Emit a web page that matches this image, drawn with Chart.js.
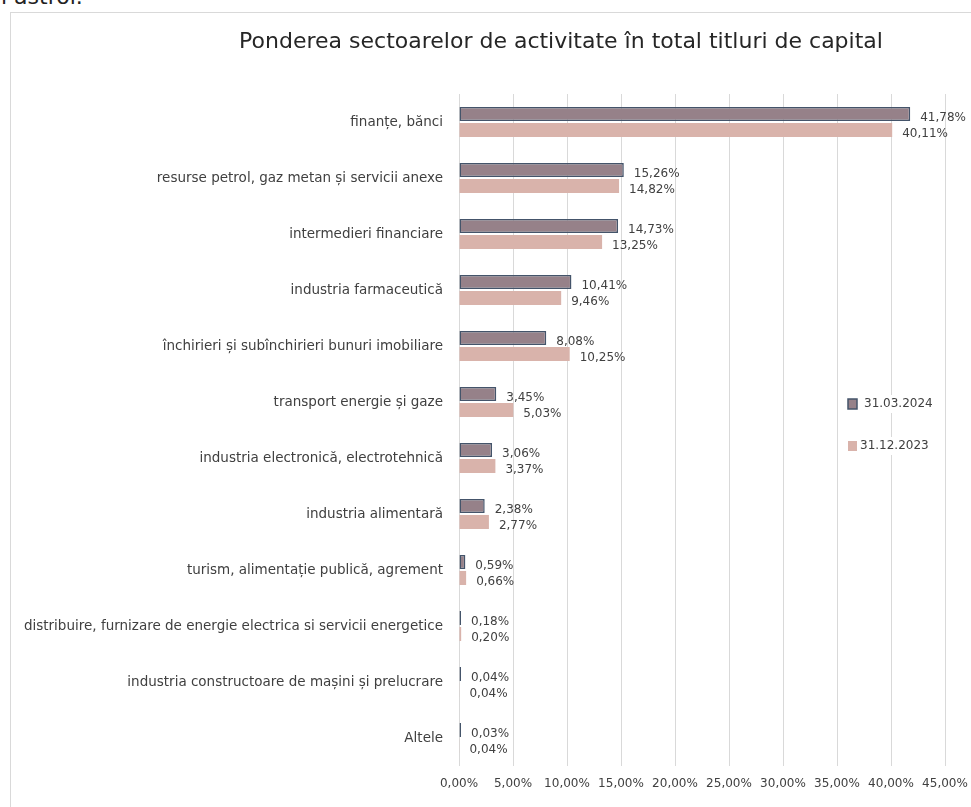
<!DOCTYPE html>
<html>
<head>
<meta charset="utf-8">
<script src="https://cdn.jsdelivr.net/npm/chart.js@4.4.0/dist/chart.umd.min.js"></script>
<style>
  html, body { margin: 0; background: #fff; overflow: hidden; width: 971px; height: 807px; }
  .page-text { position: absolute; left: 1px; top: -16px; font: 22px 'DejaVu Sans', sans-serif; color: #222; }
  .frame { position: absolute; left: 10px; top: 12px; width: 1100px; height: 900px; border-left: 1px solid #d9d9d9; border-top: 1px solid #d9d9d9; }
  .chart-container { position: absolute; left: 0; top: 0; width: 971px; height: 807px; }
</style>
</head>
<body>
<div class="page-text">l astrol.</div>
<div class="frame"></div>
<div class="chart-container">
  <canvas id="chart" width="971" height="807"></canvas>
</div>
<script>
const categories = [
  'finanțe, bănci',
  'resurse petrol, gaz metan și servicii anexe',
  'intermedieri financiare',
  'industria farmaceutică',
  'închirieri și subînchirieri bunuri imobiliare',
  'transport energie și gaze',
  'industria electronică, electrotehnică',
  'industria alimentară',
  'turism, alimentație publică, agrement',
  'distribuire, furnizare de energie electrica si servicii energetice',
  'industria constructoare de mașini și prelucrare',
  'Altele'
]

const values2024 = [41.78, 15.26, 14.73, 10.41, 8.08, 3.45, 3.06, 2.38, 0.59, 0.18, 0.04, 0.03]
const values2023 = [40.11, 14.82, 13.25, 9.46, 10.25, 5.03, 3.37, 2.77, 0.66, 0.20, 0.04, 0.04]

const seriesLabels = ['31.03.2024', '31.12.2023']
const xTicks = [0, 5, 10, 15, 20, 25, 30, 35, 40, 45]

const colors = {
  fill2024: '#968189',
  border2024: '#44546a',
  fill2023: '#d9b3ab',
  text: '#404040',
  grid: '#d9d9d9'
}

const FONT = "'DejaVu Sans', sans-serif"

const fmt = v => v.toFixed(2).replace('.', ',') + '%'

// value labels to the right of each bar, plus title and legend
const extrasPlugin = {
  id: 'extras',
  afterDatasetsDraw (chart) {
    const ctx = chart.ctx
    ctx.save()
    ctx.font = '12px ' + FONT
    ctx.fillStyle = colors.text
    ctx.textBaseline = 'middle'
    ctx.textAlign = 'left'
    chart.data.datasets.forEach((ds, i) => {
      chart.getDatasetMeta(i).data.forEach((bar, j) => {
        ctx.fillText(fmt(ds.data[j]), bar.x + 10, bar.y + 4)
      })
    })
    ctx.restore()
  },
  afterDraw (chart) {
    const ctx = chart.ctx
    ctx.save()
    // title
    ctx.font = '22px ' + FONT
    ctx.fillStyle = '#262626'
    ctx.textAlign = 'center'
    ctx.textBaseline = 'middle'
    ctx.fillText('Ponderea sectoarelor de activitate în total titluri de capital', 561, 42)

    // legend
    ctx.font = '12px ' + FONT
    ctx.textAlign = 'left'
    const items = [
      { label: seriesLabels[0], fill: colors.fill2024, border: colors.border2024, y: 404, tx: 864 },
      { label: seriesLabels[1], fill: colors.fill2023, border: null, y: 446, tx: 860 }
    ]
    items.forEach(it => {
      const w = ctx.measureText(it.label).width
      ctx.fillStyle = '#fff'
      ctx.fillRect(845, it.y - 9, it.tx - 845 + w + 4, 18)
      ctx.fillStyle = it.fill
      ctx.fillRect(848, it.y - 5, 9, 10)
      if (it.border) {
        ctx.strokeStyle = it.border
        ctx.lineWidth = 1.5
        ctx.strokeRect(848, it.y - 5, 9, 10)
      }
      ctx.fillStyle = colors.text
      ctx.fillText(it.label, it.tx, it.y)
    })
    ctx.restore()
  }
}

const chartContainer = document.getElementById('chart')
const renderedChart = new Chart(chartContainer, {
  type: 'bar',
  data: {
    labels: categories,
    datasets: [
      {
        label: seriesLabels[0],
        data: values2024,
        backgroundColor: colors.fill2024,
        borderColor: colors.border2024,
        borderWidth: 1.5,
        borderSkipped: false,
        minBarLength: 2,
        categoryPercentage: 0.57,
        barPercentage: 0.88
      },
      {
        label: seriesLabels[1],
        data: values2023,
        backgroundColor: colors.fill2023,
        borderWidth: 0,
        categoryPercentage: 0.57,
        barPercentage: 0.88
      }
    ]
  },
  options: {
    indexAxis: 'y',
    responsive: false,
    animation: false,
    layout: { padding: { top: 94, right: 26, left: 0, bottom: 0 } },
    plugins: {
      legend: { display: false },
      title: { display: false },
      tooltip: { enabled: false }
    },
    scales: {
      x: {
        min: 0,
        max: 45,
        afterBuildTicks (scale) {
          scale.ticks = xTicks.map(v => ({ value: v }))
        },
        afterFit (scale) {
          scale.height = 41
          scale.paddingLeft = 0
          scale.paddingRight = 0
        },
        grid: { color: colors.grid, lineWidth: 1, drawTicks: false },
        border: { display: false },
        ticks: {
          padding: 11,
          color: colors.text,
          font: { family: FONT, size: 12 },
          maxRotation: 0,
          autoSkip: false,
          callback: v => fmt(v)
        }
      },
      y: {
        afterFit (scale) { scale.width = 459 },
        grid: { display: false, drawTicks: false },
        border: { display: false },
        ticks: {
          padding: 16,
          color: colors.text,
          font: { family: FONT, size: 13.5 },
          autoSkip: false
        }
      }
    }
  },
  plugins: [extrasPlugin]
})
</script>
</body>
</html>
